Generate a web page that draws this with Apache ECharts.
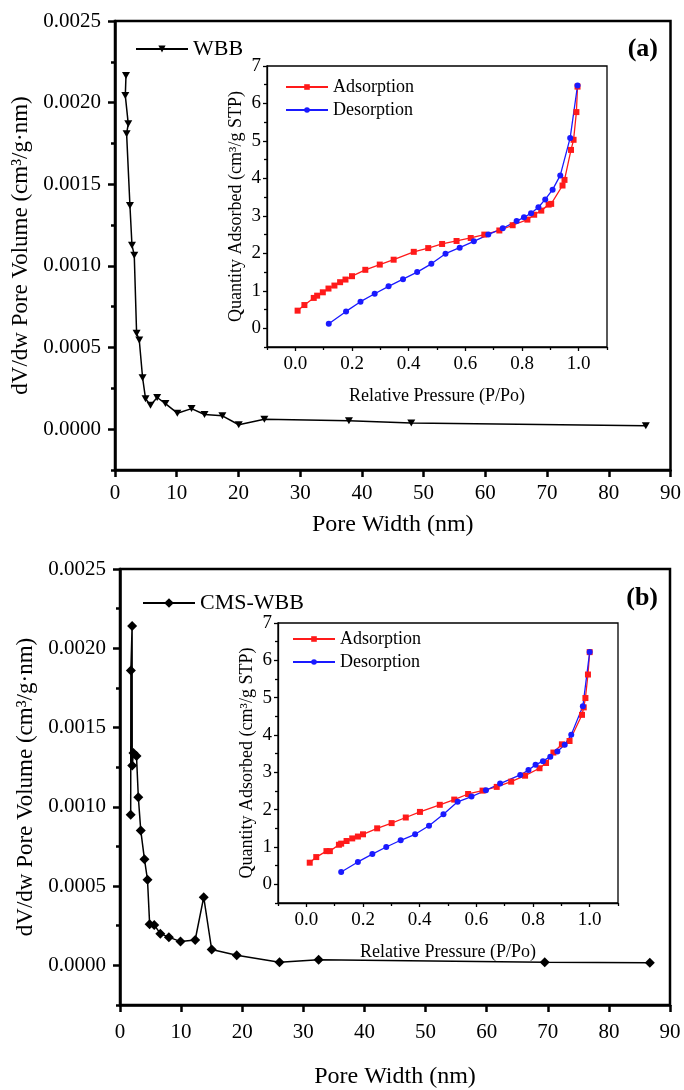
<!DOCTYPE html>
<html><head><meta charset="utf-8">
<script src="https://cdn.jsdelivr.net/npm/echarts@6/dist/echarts.min.js"></script>
<style>html,body{margin:0;padding:0;background:#fff}#c{width:684px;height:1090px}</style>
</head><body><div id="c"></div>
<script>
// ---------- data ----------
const wbbData = [
  [1.78,0.002166],[1.67,0.002043],[2.15,0.00187],[1.88,0.00181],[2.42,0.00137],
  [2.75,0.001127],[3.12,0.001066],[3.5,0.000587],[3.93,0.000546],[4.47,0.000315],
  [4.95,0.000187],[5.75,0.000147],[6.83,0.000194],[8.17,0.000157],[10.1,0.000098],
  [12.4,0.000126],[14.5,0.00009],[17.4,0.000082],[20.05,0.000027],[24.2,0.000061],
  [37.9,0.000052],[48.0,0.000038],[86.0,0.000021]
];
const cmsData = [
  [1.75,0.00095],[1.78,0.00186],[1.98,0.00214],[2.0,0.00126],[2.2,0.00134],
  [2.7,0.00132],[3.0,0.00106],[3.4,0.00085],[4.0,0.00067],[4.5,0.00054],
  [4.85,0.00026],[5.6,0.000255],[6.6,0.0002],[8.0,0.000178],[9.9,0.00015],
  [12.3,0.00016],[13.7,0.00043],[15.0,0.0001],[19.1,0.000064],[26.1,0.00002],
  [32.5,0.000035],[69.5,0.00002],[86.7,0.000017]
];
const adsA = [
  [0.008,0.47],[0.032,0.62],[0.065,0.81],[0.077,0.87],[0.097,0.96],[0.117,1.06],
  [0.138,1.14],[0.158,1.23],[0.177,1.30],[0.2,1.39],[0.247,1.56],[0.298,1.70],
  [0.347,1.83],[0.418,2.04],[0.469,2.14],[0.518,2.25],[0.569,2.33],[0.619,2.41],
  [0.667,2.50],[0.72,2.61],[0.767,2.75],[0.819,2.90],[0.843,3.03],[0.868,3.14],
  [0.894,3.30],[0.903,3.32],[0.943,3.81],[0.95,3.96],[0.973,4.76],[0.982,5.03],
  [0.992,5.77],[0.996,6.45]
];
const desA = [
  [0.118,0.12],[0.179,0.45],[0.23,0.71],[0.28,0.92],[0.329,1.12],[0.38,1.31],
  [0.43,1.50],[0.48,1.72],[0.53,1.99],[0.58,2.15],[0.63,2.32],[0.681,2.50],
  [0.732,2.67],[0.781,2.86],[0.807,2.96],[0.832,3.07],[0.858,3.23],[0.882,3.44],
  [0.908,3.70],[0.935,4.08],[0.97,5.08],[0.996,6.48]
];
const adsB = [
  [0.012,0.58],[0.035,0.73],[0.071,0.89],[0.083,0.89],[0.115,1.06],[0.123,1.09],
  [0.142,1.16],[0.162,1.23],[0.182,1.28],[0.2,1.34],[0.25,1.50],[0.301,1.64],
  [0.351,1.79],[0.401,1.94],[0.471,2.13],[0.522,2.27],[0.571,2.42],[0.622,2.51],
  [0.672,2.61],[0.723,2.75],[0.772,2.91],[0.823,3.11],[0.846,3.25],[0.872,3.53],
  [0.902,3.75],[0.929,3.84],[0.973,4.54],[0.979,4.74],[0.985,4.99],[0.994,5.62],
  [1.0,6.22]
];
const desB = [
  [0.123,0.33],[0.182,0.60],[0.233,0.81],[0.282,1.00],[0.333,1.18],[0.384,1.34],
  [0.433,1.57],[0.484,1.88],[0.534,2.21],[0.583,2.35],[0.634,2.52],[0.684,2.70],
  [0.755,2.93],[0.784,3.06],[0.809,3.20],[0.835,3.30],[0.861,3.42],[0.886,3.56],
  [0.912,3.74],[0.935,4.01],[0.976,4.77],[1.0,6.22]
];
const mainXTicks = [0,10,20,30,40,50,60,70,80,90];
const mainYTicks = [0,0.0005,0.001,0.0015,0.002,0.0025];
const mainYMinor = [-0.00025,0.00025,0.00075,0.00125,0.00175,0.00225];
const insetXTicks = [0,0.2,0.4,0.6,0.8,1.0];
const insetXMinor = [-0.1,0.1,0.3,0.5,0.7,0.9,1.1];
const insetYTicks = [0,1,2,3,4,5,6,7];
const insetYMinor = [-0.5,0.5,1.5,2.5,3.5,4.5,5.5,6.5];
const legendNames = {WBB:'WBB', CMS:'CMS-WBB', AdsA:'Adsorption', DesA:'Desorption', AdsB:'Adsorption', DesB:'Desorption'};

// ---------- chart ----------
const F = 'Liberation Serif';
const chart = echarts.init(document.getElementById('c'), null, {renderer:'canvas'});

function axis(o){
  const a = {
    type:'value', gridIndex:o.grid, min:o.min, max:o.max, position:o.pos,
    axisLine:{show:o.line!==false, onZero:false, lineStyle:{color:'#000', width:o.lw||2}},
    axisTick:{show:true, inside:false, length:o.tl||6, lineStyle:{color:'#000', width:o.lw||2}, customValues:o.ticks},
    axisLabel:{show:!!o.labels, customValues:o.labels, margin:o.margin||8, color:'#000', fontFamily:F, fontSize:o.fs||20, formatter:o.fmt},
    splitLine:{show:false}
  };
  if(o.name){
    a.name=o.name; a.nameLocation='middle'; a.nameGap=o.gap;
    a.nameTextStyle={fontFamily:F, fontSize:o.nfs, color:'#000'};
  }
  return a;
}
const fmtMain = v => v.toFixed(4);
const fmtIX = v => v.toFixed(1);
const fmtIY = v => String(Math.round(v));

const option = {
  animation:false,
  backgroundColor:'#fff',
  grid:[
    {left:115, top:21, width:557, height:449, show:true, borderColor:'#000', borderWidth:2.5, backgroundColor:'transparent'},
    {left:267, top:66, width:340, height:281, show:true, borderColor:'#000', borderWidth:1.3, backgroundColor:'#fff'},
    {left:120, top:569, width:550, height:444, show:true, borderColor:'#000', borderWidth:2.5, backgroundColor:'transparent'},
    {left:278, top:623, width:340, height:280, show:true, borderColor:'#000', borderWidth:1.3, backgroundColor:'#fff'}
  ],
  xAxis:[
    axis({grid:0, pos:'bottom', min:0, max:90, ticks:mainXTicks, labels:mainXTicks, margin:13, fs:21, lw:2.5, tl:7, name:'Pore Width (nm)', gap:43, nfs:24}),
    axis({grid:1, pos:'bottom', min:-0.1, max:1.1, ticks:insetXTicks, labels:insetXTicks, fmt:fmtIX, margin:8, fs:19, lw:1.3, tl:4, name:'Relative Pressure (P/Po)', gap:40, nfs:18}),
    axis({grid:1, pos:'bottom', min:-0.1, max:1.1, ticks:insetXMinor, line:false, lw:1.3, tl:3}),
    axis({grid:2, pos:'bottom', min:0, max:90, ticks:mainXTicks, labels:mainXTicks, margin:17, fs:21, lw:2.5, tl:7, name:'Pore Width (nm)', gap:60, nfs:24}),
    axis({grid:3, pos:'bottom', min:-0.1, max:1.1, ticks:insetXTicks, labels:insetXTicks, fmt:fmtIX, margin:8, fs:19, lw:1.3, tl:4, name:'Relative Pressure (P/Po)', gap:40, nfs:18}),
    axis({grid:3, pos:'bottom', min:-0.1, max:1.1, ticks:insetXMinor, line:false, lw:1.3, tl:3})
  ],
  yAxis:[
    axis({grid:0, pos:'left', min:-0.00025, max:0.0025, ticks:mainYTicks, labels:mainYTicks, fmt:fmtMain, margin:14, fs:21, lw:2.5, tl:7, name:'dV/dw Pore Volume (cm³/g·nm)', gap:72, nfs:23}),
    axis({grid:0, pos:'left', min:-0.00025, max:0.0025, ticks:mainYMinor, line:false, lw:2.5, tl:4}),
    axis({grid:1, pos:'left', min:-0.5, max:7, ticks:insetYTicks, labels:insetYTicks, fmt:fmtIY, margin:6, fs:19, lw:1.3, tl:4, name:'Quantity Adsorbed (cm³/g STP)', gap:22, nfs:18}),
    axis({grid:1, pos:'left', min:-0.5, max:7, ticks:insetYMinor, line:false, lw:1.3, tl:3}),
    axis({grid:2, pos:'left', min:-0.00025, max:0.0025, ticks:mainYTicks, labels:mainYTicks, fmt:fmtMain, margin:14, fs:21, lw:2.5, tl:7, name:'dV/dw Pore Volume (cm³/g·nm)', gap:72, nfs:23}),
    axis({grid:2, pos:'left', min:-0.00025, max:0.0025, ticks:mainYMinor, line:false, lw:2.5, tl:4}),
    axis({grid:3, pos:'left', min:-0.5, max:7, ticks:insetYTicks, labels:insetYTicks, fmt:fmtIY, margin:6, fs:19, lw:1.3, tl:4, name:'Quantity Adsorbed (cm³/g STP)', gap:22, nfs:18}),
    axis({grid:3, pos:'left', min:-0.5, max:7, ticks:insetYMinor, line:false, lw:1.3, tl:3})
  ],
  legend:[
    {left:135, top:38, padding:0, itemWidth:52, itemHeight:9, selectedMode:false, data:['WBB'], formatter:n=>legendNames[n], textStyle:{fontFamily:F, fontSize:22, color:'#000'}},
    {left:142, top:592, padding:0, itemWidth:52, itemHeight:12, selectedMode:false, data:['CMS'], formatter:n=>legendNames[n], textStyle:{fontFamily:F, fontSize:22, color:'#000'}},
    {left:285, top:78, padding:0, orient:'vertical', itemGap:5, itemWidth:42, itemHeight:7, selectedMode:false, data:['AdsA','DesA'], formatter:n=>legendNames[n], textStyle:{fontFamily:F, fontSize:18, color:'#000'}},
    {left:292, top:630, padding:0, orient:'vertical', itemGap:5, itemWidth:42, itemHeight:7, selectedMode:false, data:['AdsB','DesB'], formatter:n=>legendNames[n], textStyle:{fontFamily:F, fontSize:18, color:'#000'}}
  ],
  series:[
    {name:'WBB', type:'line', xAxisIndex:0, yAxisIndex:0, data:wbbData, symbol:'path://M0,0L10,0L5,9Z', symbolSize:[8,7], lineStyle:{color:'#000', width:1.5}, itemStyle:{color:'#000'}},
    {name:'AdsA', type:'line', xAxisIndex:1, yAxisIndex:2, data:adsA, symbol:'rect', symbolSize:6, lineStyle:{color:'#ff1a1a', width:1.3}, itemStyle:{color:'#ff1a1a'}},
    {name:'DesA', type:'line', xAxisIndex:1, yAxisIndex:2, data:desA, symbol:'circle', symbolSize:6, lineStyle:{color:'#1a1aff', width:1.3}, itemStyle:{color:'#1a1aff'}},
    {name:'CMS', type:'line', xAxisIndex:3, yAxisIndex:4, data:cmsData, symbol:'diamond', symbolSize:10, lineStyle:{color:'#000', width:1.5}, itemStyle:{color:'#000'}},
    {name:'AdsB', type:'line', xAxisIndex:4, yAxisIndex:6, data:adsB, symbol:'rect', symbolSize:6, lineStyle:{color:'#ff1a1a', width:1.3}, itemStyle:{color:'#ff1a1a'}},
    {name:'DesB', type:'line', xAxisIndex:4, yAxisIndex:6, data:desB, symbol:'circle', symbolSize:6, lineStyle:{color:'#1a1aff', width:1.3}, itemStyle:{color:'#1a1aff'}}
  ],
  graphic:[
    {type:'text', right:26, top:36, style:{text:'(a)', font:'bold 26px "Liberation Serif"', fill:'#000'}},
    {type:'text', right:26, top:585, style:{text:'(b)', font:'bold 26px "Liberation Serif"', fill:'#000'}}
  ]
};
chart.setOption(option);
</script></body></html>
